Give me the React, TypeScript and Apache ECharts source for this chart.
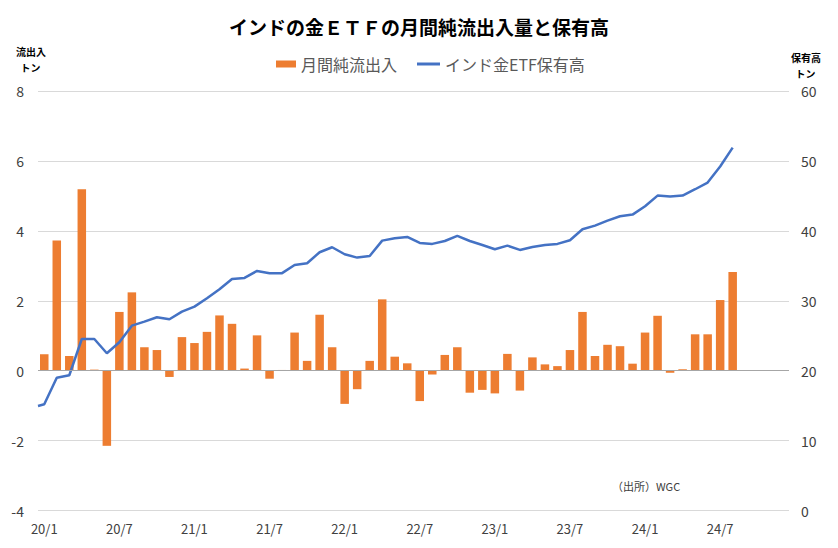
import React, { useEffect, useRef } from "react";
import * as echarts from "echarts";

const months: string[] = [
  "20/1","20/2","20/3","20/4","20/5","20/6","20/7","20/8","20/9","20/10","20/11","20/12",
  "21/1","21/2","21/3","21/4","21/5","21/6","21/7","21/8","21/9","21/10","21/11","21/12",
  "22/1","22/2","22/3","22/4","22/5","22/6","22/7","22/8","22/9","22/10","22/11","22/12",
  "23/1","23/2","23/3","23/4","23/5","23/6","23/7","23/8","23/9","23/10","23/11","23/12",
  "24/1","24/2","24/3","24/4","24/5","24/6","24/7","24/8","24/9","24/10","24/11","24/12",
];

// monthly net flows (tonnes), 2020/1 - 2024/8
const flows: number[] = [
  0.47, 3.72, 0.42, 5.19, 0.03, -2.15, 1.68, 2.24, 0.67, 0.59, -0.18, 0.96,
  0.79, 1.11, 1.58, 1.34, 0.06, 1.01, -0.23, 0.02, 1.09, 0.28, 1.6, 0.67,
  -0.95, -0.53, 0.28, 2.04, 0.4, 0.21, -0.87, -0.11, 0.45, 0.67, -0.63, -0.55,
  -0.65, 0.48, -0.57, 0.38, 0.18, 0.13, 0.59, 1.68, 0.42, 0.74, 0.7, 0.2,
  1.09, 1.57, -0.06, 0.04, 1.04, 1.04, 2.02, 2.82,
];

// holdings at end of 2019/12 (start of line)
const holdingsStart = 14.95;
// holdings (tonnes), 2020/1 - 2024/8
const holdings: number[] = [
  15.19, 19.0, 19.34, 24.53, 24.53, 22.49, 24.06, 26.44, 27.01, 27.64, 27.35, 28.44,
  29.16, 30.36, 31.64, 33.12, 33.26, 34.26, 33.93, 33.95, 35.12, 35.36, 36.94, 37.65,
  36.65, 36.17, 36.41, 38.6, 38.94, 39.13, 38.27, 38.13, 38.55, 39.27, 38.55, 37.98,
  37.37, 37.88, 37.27, 37.7, 37.98, 38.13, 38.65, 40.23, 40.75, 41.46, 42.09, 42.32,
  43.52, 45.04, 44.9, 45.04, 45.95, 46.9, 49.2, 51.9,
];

const flowName = "月間純流出入";
const holdName = "インド金ETF保有高";
const FONT = "'Noto Sans CJK JP', 'Noto Sans', sans-serif";

export default function App() {
  const ref = useRef<HTMLDivElement>(null);
  useEffect(() => {
    if (!ref.current) return;
    const chart = echarts.init(ref.current, null, { renderer: "svg" });
    const lineData: [number, number][] = [[-0.5, holdingsStart]];
    holdings.forEach((v, i) => lineData.push([i, v]));
    chart.setOption({
      animation: false,
      backgroundColor: "#ffffff",
      textStyle: { fontFamily: FONT },
      title: {
        text: "インドの金ＥＴＦの月間純流出入量と保有高",
        left: "center",
        top: 12,
        textStyle: { fontFamily: FONT, fontSize: 19, fontWeight: "bold", color: "#000000" },
      },
      legend: [
        {
          data: [{ name: flowName, icon: "rect" }],
          left: 271,
          top: 51,
          itemWidth: 20,
          itemHeight: 7,
          itemGap: 4,
          textStyle: { fontFamily: FONT, fontSize: 16, color: "#595959" },
        },
        {
          data: [{ name: holdName, icon: "rect" }],
          left: 412,
          top: 51,
          itemWidth: 23,
          itemHeight: 3,
          itemGap: 4,
          textStyle: { fontFamily: FONT, fontSize: 16, color: "#595959" },
        },
      ],
      grid: {
        left: 38,
        right: 49,
        top: 91,
        bottom: 37.5,
        containLabel: false,
        outerBoundsMode: "none",
      },
      xAxis: [
        {
          type: "category",
          data: months,
          position: "bottom",
          boundaryGap: true,
          axisLine: { show: false },
          axisTick: { show: false },
          axisLabel: {
            interval: 5,
            margin: 11,
            fontSize: 13,
            color: "#404040",
            fontFamily: FONT,
          },
          splitLine: { show: false },
        },
        {
          type: "value",
          min: -0.5,
          max: months.length - 0.5,
          show: false,
        },
      ],
      yAxis: [
        {
          type: "value",
          min: -4,
          max: 8,
          interval: 2,
          axisLine: { show: false },
          axisTick: { show: false },
          axisLabel: { fontSize: 14, color: "#404040", margin: 14, fontFamily: FONT },
          splitLine: { lineStyle: { color: "#d9d9d9", width: 1 } },
        },
        {
          type: "value",
          min: 0,
          max: 60,
          interval: 10,
          position: "right",
          axisLine: { show: false },
          axisTick: { show: false },
          axisLabel: { fontSize: 14, color: "#404040", margin: 12, fontFamily: FONT },
          splitLine: { show: false },
        },
      ],
      series: [
        {
          name: flowName,
          type: "bar",
          data: flows,
          xAxisIndex: 0,
          yAxisIndex: 0,
          barCategoryGap: "32%",
          itemStyle: { color: "#ED7D31" },
          markLine: {
            silent: true,
            symbol: "none",
            label: { show: false },
            lineStyle: { color: "#a6a6a6", type: "solid", width: 1 },
            data: [{ yAxis: 0 }],
          },
          z: 2,
        },
        {
          name: holdName,
          type: "line",
          data: lineData,
          xAxisIndex: 1,
          yAxisIndex: 1,
          symbol: "none",
          showSymbol: false,
          lineStyle: { color: "#4472C4", width: 2.5 },
          itemStyle: { color: "#4472C4" },
          z: 3,
        },
      ],
      graphic: [
        {
          type: "text",
          left: 16,
          top: 43,
          style: {
            text: "流出入\n  トン",
            fontFamily: FONT,
            fontSize: 10,
            fontWeight: "bold",
            lineHeight: 16,
            fill: "#000000",
          },
        },
        {
          type: "text",
          left: 791,
          top: 49,
          style: {
            text: "保有高\n  トン",
            fontFamily: FONT,
            fontSize: 10,
            fontWeight: "bold",
            lineHeight: 16,
            fill: "#000000",
          },
        },
        {
          type: "text",
          left: 612,
          top: 480,
          style: {
            text: "（出所）WGC",
            fontFamily: FONT,
            fontSize: 11,
            fill: "#404040",
          },
        },
      ],
    });
    return () => chart.dispose();
  }, []);
  return (
    <div
      ref={ref}
      style={{ position: "fixed", left: 0, top: 0, width: 838, height: 548 }}
    />
  );
}
